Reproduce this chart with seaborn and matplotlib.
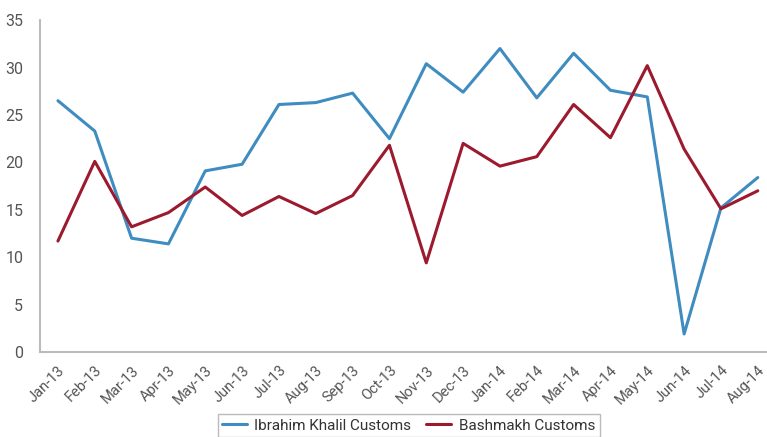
import pandas as pd
import matplotlib.pyplot as plt
import seaborn as sns

months = ["Jan-13", "Feb-13", "Mar-13", "Apr-13", "May-13", "Jun-13", "Jul-13",
          "Aug-13", "Sep-13", "Oct-13", "Nov-13", "Dec-13", "Jan-14", "Feb-14",
          "Mar-14", "Apr-14", "May-14", "Jun-14", "Jul-14", "Aug-14"]
ibrahim_khalil = [26.5, 23.3, 12.0, 11.4, 19.1, 19.8, 26.1, 26.3, 27.3, 22.5,
                  30.4, 27.4, 32.0, 26.8, 31.5, 27.6, 26.9, 1.9, 15.2, 18.4]
bashmakh = [11.7, 20.1, 13.2, 14.7, 17.4, 14.4, 16.4, 14.6, 16.5, 21.8,
            9.4, 22.0, 19.6, 20.6, 26.1, 22.6, 30.2, 21.4, 15.1, 17.0]
series_names = ["Ibrahim Khalil Customs", "Bashmakh Customs"]
colors = ["#3f8cc0", "#9c1a2e"]

df = pd.DataFrame({"month": months,
                   series_names[0]: ibrahim_khalil,
                   series_names[1]: bashmakh})
df["pos"] = range(len(months))
long = df.melt(id_vars=["month", "pos"], value_vars=series_names,
               var_name="series", value_name="value")

sns.set_style("white")
plt.rcParams["font.family"] = ["Roboto", "DejaVu Sans"]

fig = plt.figure(figsize=(7.67, 4.37), dpi=100)
ax = fig.add_axes([0.052, 0.1945, 0.948, 0.7595])

sns.lineplot(data=long, x="pos", y="value", hue="series", hue_order=series_names,
             palette=colors, linewidth=2.2, ax=ax, legend=True)

ax.set_xlim(-0.49, 19.25)
ax.set_ylim(0, 35)
ax.set_yticks(range(0, 36, 5))
ax.set_xticks(range(len(months)))
ax.set_xticklabels(months, rotation=45, ha="right", rotation_mode="anchor")
ax.set_xlabel("")
ax.set_ylabel("")
ax.tick_params(axis="both", length=0, labelsize=10.5, colors="#555555")
ax.tick_params(axis="x", pad=8)
ax.tick_params(axis="y", pad=12, labelsize=11.5)

for side in ["top", "right"]:
    ax.spines[side].set_visible(False)
for side in ["left", "bottom"]:
    ax.spines[side].set_color("#bbbbbb")
    ax.spines[side].set_linewidth(1.5)

leg = ax.legend(loc="center", bbox_to_anchor=(0.507, -0.222), ncol=2,
                frameon=True, fancybox=False, fontsize=11, handlelength=1.6,
                columnspacing=1.0, handletextpad=0.5, borderpad=0.3)
leg.get_frame().set_edgecolor("#aaaaaa")
leg.get_frame().set_linewidth(1.0)
for t in leg.get_texts():
    t.set_color("#333333")

fig.savefig("out.png", dpi=100)
